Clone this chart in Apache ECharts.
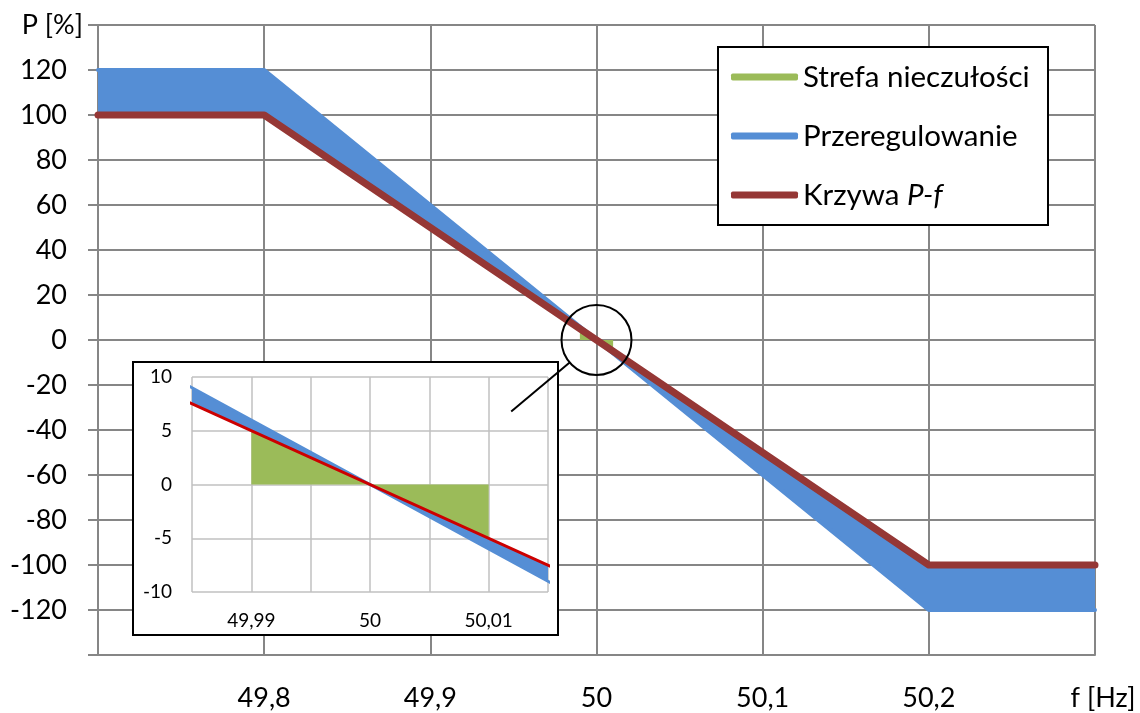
<!DOCTYPE html>
<html><head><meta charset="utf-8">
<script src="https://cdn.jsdelivr.net/npm/echarts@6/dist/echarts.min.js"></script>
<style>html,body{margin:0;padding:0;background:#fff}#c{width:1140px;height:713px}</style>
</head><body><div id="c"></div>
<script>
// ---- data ----
const freq = [49.7, 49.8, 50.2, 50.3];               // f [Hz]
const krzywaPf = [100, 100, -100, -100];             // Krzywa P-f  [%]
const przeregulowanie = [120, 120, -120, -120];      // Przeregulowanie (outer bound) [%]
const strefaFreq = [49.99, 50, 50.01];               // Strefa nieczułości
const strefaP = [5, 0, -5];

const xTickVals = [49.8, 49.9, 50, 50.1, 50.2, 50.3];
const xTickLabels = ['49,8', '49,9', '50', '50,1', '50,2', '{u|f [Hz]}'];
const yTickVals = [-120, -100, -80, -60, -40, -20, 0, 20, 40, 60, 80, 100, 120];
const yTickLabels = ['-120', '-100', '-80', '-60', '-40', '-20', '0', '20', '40', '60', '80', '100', '120'];
const insetXTickVals = [49.99, 50, 50.01];
const insetXTickLabels = ['49,99', '50', '50,01'];
const insetYTickVals = [-10, -5, 0, 5, 10];
const insetYTickLabels = ['-10', '-5', '0', '5', '10'];

const legendNames = ['Strefa nieczułości', 'Przeregulowanie', 'Krzywa P-f'];

// ---- style ----
const GREEN = '#9BBB59', BLUE = '#558ED5', RED = '#953735', INSET_RED = '#CC0000';
const GRID_C = '#868686', INSET_GRID_C = '#C0C0C0';
const FONT = 'Lato';

function lookup(vals, labels) {
  return function (v) {
    for (let i = 0; i < vals.length; i++) if (Math.abs(v - vals[i]) < 1e-7) return labels[i];
    return '';
  };
}
const pairs = (xs, ys) => xs.map((x, i) => [x, ys[i]]);

function bandSeries(xi, yi, z, name) {
  return {
    type: 'custom', name: name, xAxisIndex: xi, yAxisIndex: yi, z: z, clip: true, silent: true,
    itemStyle: { color: BLUE },
    data: [[freq[0], krzywaPf[0]]],
    encode: { x: 0, y: 1 },
    renderItem: function (params, api) {
      const pts = [];
      for (let i = 0; i < freq.length; i++) pts.push(api.coord([freq[i], przeregulowanie[i]]));
      for (let i = freq.length - 1; i >= 0; i--) pts.push(api.coord([freq[i], krzywaPf[i]]));
      return { type: 'polygon', shape: { points: pts }, style: { fill: BLUE, stroke: null } };
    }
  };
}

const chart = echarts.init(document.getElementById('c'));
const main = { left: 98, top: 25, right: 45, bottom: 58 };
const inset = { left: 192, top: 377, width: 356, height: 215 };

const option = {
  animation: false,
  backgroundColor: '#fff',
  grid: [
    Object.assign({ outerBoundsMode: 'none', containLabel: false }, main),
    Object.assign({ outerBoundsMode: 'none', containLabel: false }, inset)
  ],
  xAxis: [
    {
      type: 'value', gridIndex: 0, min: 49.7, max: 50.3, interval: 0.1,
      axisLine: { show: true, onZero: false, lineStyle: { color: GRID_C, width: 2 } },
      axisTick: { show: false },
      splitLine: { show: true, lineStyle: { color: GRID_C, width: 2 } },
      axisLabel: {
        margin: 30, fontFamily: FONT, fontSize: 27, color: '#000', formatter: lookup(xTickVals, xTickLabels),
        rich: { u: { fontFamily: FONT, fontSize: 27, color: '#000', padding: [0, 0, 0, 16] } }
      }
    },
    {
      type: 'value', gridIndex: 1, min: 49.985, max: 50.015, interval: 0.005, z: 11,
      axisLine: { show: false, onZero: false },
      axisTick: { show: false },
      splitLine: { show: true, lineStyle: { color: INSET_GRID_C, width: 1.5 } },
      axisLabel: { margin: 19, fontFamily: FONT, fontSize: 19, color: '#000', formatter: lookup(insetXTickVals, insetXTickLabels) }
    }
  ],
  yAxis: [
    {
      type: 'value', gridIndex: 0, min: -140, max: 140, interval: 20,
      axisLine: { show: true, onZero: false, lineStyle: { color: GRID_C, width: 2 } },
      axisTick: { show: true, length: 10, lineStyle: { color: GRID_C, width: 2 } },
      splitLine: { show: true, lineStyle: { color: GRID_C, width: 2 } },
      axisLabel: { margin: 31, fontFamily: FONT, fontSize: 27, color: '#000', formatter: lookup(yTickVals, yTickLabels) },
      name: 'P [%]', nameLocation: 'end', nameGap: 0,
      nameTextStyle: { align: 'right', verticalAlign: 'middle', padding: [0, 15, 0, 0], fontFamily: FONT, fontSize: 27, color: '#000' }
    },
    {
      type: 'value', gridIndex: 1, min: -10, max: 10, interval: 5, z: 11,
      axisLine: { show: false, onZero: false },
      axisTick: { show: false },
      splitLine: { show: true, lineStyle: { color: INSET_GRID_C, width: 1.5 } },
      axisLabel: { margin: 20, fontFamily: FONT, fontSize: 19, color: '#000', formatter: lookup(insetYTickVals, insetYTickLabels) }
    }
  ],
  legend: {
    orient: 'vertical', left: 718, top: 47, padding: [15, 14, 14, 13],
    itemWidth: 67, itemHeight: 7, itemGap: 29, icon: 'roundRect', selectedMode: false, z: 20,
    data: legendNames,
    formatter: n => n === 'Krzywa P-f' ? 'Krzywa {i|P-f}' : n,
    textStyle: {
      fontFamily: FONT, fontSize: 29.5, color: '#000', lineHeight: 30,
      rich: { i: { fontStyle: 'italic', fontFamily: FONT, fontSize: 29.5, color: '#000', lineHeight: 30 } }
    }
  },
  series: [
    // main chart
    bandSeries(0, 0, 2, 'Przeregulowanie'),
    {
      type: 'line', name: 'Przeregulowanie', xAxisIndex: 0, yAxisIndex: 0, z: 3, symbol: 'none',
      data: pairs(freq, przeregulowanie), itemStyle: { color: BLUE },
      lineStyle: { color: BLUE, width: 4, cap: 'round', join: 'round' }
    },
    {
      type: 'line', name: 'Strefa nieczułości', xAxisIndex: 0, yAxisIndex: 0, z: 4, symbol: 'none',
      data: pairs(strefaFreq, strefaP), itemStyle: { color: GREEN },
      lineStyle: { width: 0, color: GREEN }, areaStyle: { color: GREEN, opacity: 1, origin: 'auto' }
    },
    {
      type: 'line', name: 'Krzywa P-f', xAxisIndex: 0, yAxisIndex: 0, z: 5, symbol: 'none',
      data: pairs(freq, krzywaPf), itemStyle: { color: RED },
      lineStyle: { color: RED, width: 7, cap: 'round', join: 'round' }
    },
    // inset
    {
      type: 'line', name: 'inset-strefa', xAxisIndex: 1, yAxisIndex: 1, z: 12, symbol: 'none',
      data: pairs(strefaFreq, strefaP), itemStyle: { color: GREEN },
      lineStyle: { width: 0, color: GREEN }, areaStyle: { color: GREEN, opacity: 1, origin: 'auto' }
    },
    bandSeries(1, 1, 13, 'inset-band'),
    {
      type: 'line', name: 'inset-blue', xAxisIndex: 1, yAxisIndex: 1, z: 14, symbol: 'none',
      data: pairs(freq, przeregulowanie), itemStyle: { color: BLUE },
      lineStyle: { color: BLUE, width: 3, cap: 'round' }
    },
    {
      type: 'line', name: 'inset-red', xAxisIndex: 1, yAxisIndex: 1, z: 15, symbol: 'none',
      data: pairs(freq, krzywaPf), itemStyle: { color: INSET_RED },
      lineStyle: { color: INSET_RED, width: 3, cap: 'round' }
    }
  ]
};
chart.setOption(option);

// decorations: zoom circle, connector, inset frame, legend frame
const centre = chart.convertToPixel({ xAxisIndex: 0, yAxisIndex: 0 }, [50, 0]);
const connEnd = chart.convertToPixel({ xAxisIndex: 1, yAxisIndex: 1 }, [50.0119, 6.8]);
const R = 35;
const dx = connEnd[0] - centre[0], dy = connEnd[1] - centre[1], d = Math.hypot(dx, dy);
const connStart = [centre[0] + R * dx / d, centre[1] + R * dy / d];

chart.setOption({
  graphic: [
    { type: 'rect', z: 10, silent: true,
      shape: { x: inset.left - 59, y: inset.top - 15, width: inset.width + 69, height: inset.height + 58 },
      style: { fill: '#fff', stroke: '#000', lineWidth: 2 } },
    { type: 'rect', z: 19, silent: true,
      shape: { x: 718, y: 47, width: 330, height: 178 },
      style: { fill: '#fff', stroke: '#000', lineWidth: 2 } },
    { type: 'circle', z: 30, silent: true,
      shape: { cx: centre[0], cy: centre[1], r: R },
      style: { fill: null, stroke: '#000', lineWidth: 2 } },
    { type: 'line', z: 30, silent: true,
      shape: { x1: connStart[0], y1: connStart[1], x2: connEnd[0], y2: connEnd[1] },
      style: { stroke: '#000', lineWidth: 2 } }
  ]
});
</script>
</body></html>
